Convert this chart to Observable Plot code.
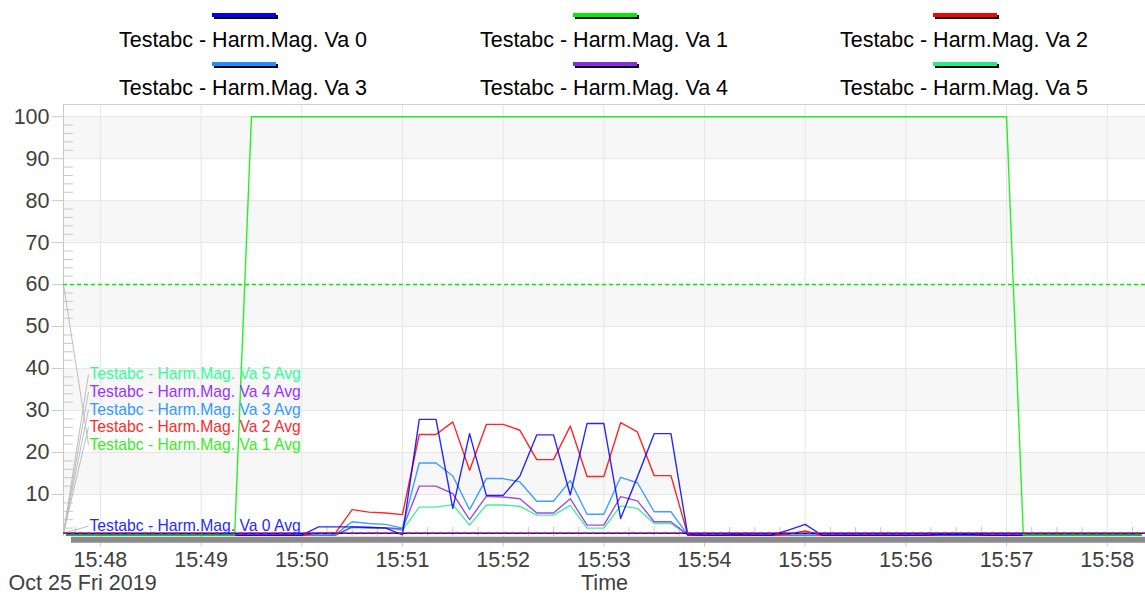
<!DOCTYPE html>
<html><head><meta charset="utf-8">
<script src="https://cdn.jsdelivr.net/npm/d3@7"></script>
<script src="https://cdn.jsdelivr.net/npm/@observablehq/plot@0.6"></script>
<style>
body{margin:0;background:#fff;font-family:"Liberation Sans",Arial,sans-serif;}
#legend{position:relative;width:1145px;height:104px;overflow:hidden;}
.sw{position:absolute;width:64px;height:4px;box-shadow:2px 2px 0 #000;}
.lt{position:absolute;width:360px;text-align:center;font-size:21.5px;line-height:24px;color:#000;white-space:nowrap;}
#chart svg{display:block;}
</style></head><body>
<div id="legend"></div><div id="chart"></div>
<script>
// ---------- data ----------
const startTime = "2019-10-25T15:47:40Z";
const stepSeconds = 10;
const seriesNames = ["Testabc - Harm.Mag. Va 0","Testabc - Harm.Mag. Va 1","Testabc - Harm.Mag. Va 2",
                     "Testabc - Harm.Mag. Va 3","Testabc - Harm.Mag. Va 4","Testabc - Harm.Mag. Va 5"];
const seriesColors = ["#0000ff","#00ee00","#ff0000","#1e90ff","#8a2be2","#22ee88"];
const avgLabelColors = ["#2a2aff","#33ee22","#ff2a2a","#3399ff","#9933ff","#33ff99"];

const va0 = [0.3,0.3,
 0.3,0.3,0.3,0.3,0.3,0.3,
 0.3,0.3,0.3,0.3,0.3,0.3,
 0.3,2.3,2.3,2.3,2.2,2.0,
 0.4,27.9,27.9,6.7,24.5,9.8,
 9.8,14.4,24.2,24.2,9.9,26.9,
 26.9,4.3,14.2,24.5,24.5,0.4,
 0.3,0.3,0.4,0.3,0.3,1.5,
 2.9,0.3,0.3,0.3,0.3,0.3,
 0.3,0.3,0.4,0.4,0.4,0.3,
 0.3,0.3,0.3,0.3,0.3,0.3,
 0.3,0.3,0.3];
const va1 = [0.3,0.3,
 0.3,0.3,0.3,0.3,0.3,0.3,
 0.3,0.3,0.3,100,100,100,
 100,100,100,100,100,100,
 100,100,100,100,100,100,
 100,100,100,100,100,100,
 100,100,100,100,100,100,
 100,100,100,100,100,100,
 100,100,100,100,100,100,
 100,100,100,100,100,100,
 100,0.3,0.3,0.3,0.3,0.3,
 0.3,0.3,0.3];
const va2 = [0.3,0.3,
 0.3,0.3,0.3,0.3,0.3,0.3,
 0.3,0.3,0.3,0.3,0.3,0.3,
 0.3,0.8,0.8,6.4,5.8,5.6,
 5.2,24.3,24.3,27.3,15.8,26.7,
 26.7,25.3,18.3,18.3,26.3,14.3,
 14.3,27.1,24.9,14.5,14.5,0.4,
 0.3,0.3,0.3,0.3,0.3,0.6,
 1.3,0.3,0.3,0.3,0.3,0.3,
 0.3,0.3,0.5,0.5,0.5,0.3,
 0.3,0.3,0.3,0.3,0.3,0.3,
 0.3,0.3,0.3];
const va3 = [0.3,0.3,
 0.3,0.3,0.3,0.3,0.3,0.3,
 0.3,0.3,0.3,0.3,0.3,0.3,
 0.3,0.3,0.5,3.5,3.1,2.9,
 2.0,17.5,17.5,14.4,6.4,13.8,
 13.8,13.0,8.4,8.4,13.3,5.3,
 5.3,14.1,12.8,5.9,5.9,0.4,
 0.3,0.3,0.3,0.3,0.3,0.3,
 0.3,0.3,0.3,0.3,0.3,0.3,
 0.3,0.3,0.3,0.3,0.3,0.3,
 0.3,0.3,0.3,0.3,0.3,0.3,
 0.3,0.3,0.3];
const va4 = [0.3,0.3,
 0.3,0.3,0.3,0.3,0.3,0.3,
 0.3,0.3,0.3,0.3,0.3,0.3,
 0.3,0.3,0.3,2.3,2.1,2.1,
 1.8,12.0,12.0,10.2,4.0,9.6,
 9.4,9.0,5.6,5.6,9.0,2.7,
 2.7,9.5,8.5,3.5,3.5,0.4,
 0.3,0.3,0.3,0.3,0.3,0.3,
 0.3,0.3,0.3,0.3,0.3,0.3,
 0.3,0.3,0.3,0.3,0.3,0.3,
 0.3,0.3,0.3,0.3,0.3,0.3,
 0.3,0.3,0.3];
const va5 = [0.3,0.3,
 0.3,0.3,0.3,0.3,0.3,0.3,
 0.3,0.3,0.3,0.3,0.3,0.3,
 0.3,0.3,0.3,2.1,2.0,2.0,
 1.5,7.0,7.0,7.6,2.7,7.5,
 7.5,7.2,5.1,5.1,7.4,2.0,
 2.0,7.3,6.7,3.1,3.1,0.4,
 0.3,0.3,0.3,0.3,0.3,0.3,
 0.3,0.3,0.3,0.3,0.3,0.3,
 0.3,0.3,0.3,0.3,0.3,0.3,
 0.3,0.3,0.3,0.3,0.3,0.3,
 0.3,0.3,0.3];
const seriesValues = [va0, va1, va2, va3, va4, va5];
const avgValues = [0.8, 60, 0.8, 0.8, 0.8, 0.8];
const yTickValues = [10,20,30,40,50,60,70,80,90,100];
const xDomainStart = "2019-10-25T15:47:38Z";
const xDomainEnd = "2019-10-25T15:58:22.8Z";
const dateLabel = "Oct 25 Fri 2019";
const axisTitle = "Time";

// ---------- legend ----------
const legend = document.getElementById("legend");
const colCenters = [243, 604, 964];
seriesNames.forEach((name, i) => {
  const col = i % 3, row = Math.floor(i / 3);
  const sw = document.createElement("div");
  sw.className = "sw";
  sw.style.background = seriesColors[i];
  sw.style.left = (colCenters[col] - 31) + "px";
  sw.style.top = (13 + row * 49) + "px";
  legend.appendChild(sw);
  const t = document.createElement("div");
  t.className = "lt";
  t.textContent = name;
  t.style.left = (colCenters[col] - 180) + "px";
  t.style.top = (28 + row * 48) + "px";
  legend.appendChild(t);
});

// ---------- chart ----------
const t0 = new Date(startTime);
const times = seriesValues[0].map((_, i) => new Date(+t0 + i * stepSeconds * 1000));
const xDomain = [new Date(xDomainStart), new Date(xDomainEnd)];
const yDomain = [0, 102.9];
const pxPerUnit = 4.2;
const msPerPx = 60000 / 100.68;
const xTicks = d3.utcMinute.range(new Date("2019-10-25T15:48:00Z"), new Date("2019-10-25T15:58:01Z"));
const xMinor = d3.utcSecond.every(15).range(xDomain[0], xDomain[1]).filter(d => d.getUTCSeconds() !== 0);
const yMinor = d3.range(2, 101, 2).filter(v => v % 10 !== 0);
const bands = yTickValues.filter(t => t % 20 === 10).map(t => ({lo: t, hi: t + 10}));
const fmt = d3.utcFormat("%H:%M");
const axisEdge = xDomain[0];
const minorTickEnd = new Date(+axisEdge + 10 * msPerPx);
const bandStart = new Date(+axisEdge + 8 * msPerPx);

// avg labels: stacked text with leader lines
const stackOrder = [5, 4, 3, 2, 1];
const stackTop = 38.6, stackStep = 17.6 / pxPerUnit;
const avgLabels = stackOrder.map((s, k) => ({s, ly: stackTop - k * stackStep}));
avgLabels.push({s: 0, ly: 2.45});
avgLabels.forEach(d => {
  d.text = seriesNames[d.s] + " Avg";
  d.color = avgLabelColors[d.s];
  d.avg = avgValues[d.s];
  d.x1 = axisEdge;
  d.x2 = new Date(+axisEdge + 25 * msPerPx);
});

const lineOrder = [5, 4, 3, 2, 0, 1];
const lineMarks = lineOrder.map(s => Plot.line(times.map((t, i) => ({t, v: seriesValues[s][i]})),
  {x: "t", y: "v", stroke: seriesColors[s], strokeWidth: 1.4, strokeOpacity: 0.85}));

const avgOrder = [5, 4, 3, 1, 2, 0];
const avgMarks = avgOrder.map(s => Plot.ruleY([avgValues[s]], {
  stroke: seriesColors[s], strokeWidth: 1.5,
  strokeDasharray: s === 1 ? "4,3" : "4,4",
  strokeDashoffset: s === 0 ? 4 : 0
}));

const chart = Plot.plot({
  width: 1145, height: 492,
  marginLeft: 63, marginRight: 0, marginTop: 0, marginBottom: 60,
  style: {fontFamily: '"Liberation Sans", Arial, sans-serif', fontSize: "21.5px", color: "#404040", background: "#fff", overflow: "visible"},
  x: {type: "utc", domain: xDomain, axis: null},
  y: {domain: yDomain, axis: null},
  marks: [
    Plot.rect(bands, {y1: "lo", y2: "hi", fill: "#f7f7f7"}),
    Plot.gridY(yTickValues, {stroke: "#e6e6e6", strokeOpacity: 1}),
    Plot.gridX(xTicks, {stroke: "#e6e6e6", strokeOpacity: 1}),
    Plot.ruleY([yDomain[1]], {stroke: "#d0d0d0"}),
    Plot.ruleX([axisEdge], {stroke: "#c8c8c8"}),
    Plot.axisY(yTickValues, {tickSize: 11, tickPadding: 3, stroke: "#c8c8c8", fill: "#404040", fontSize: 21.5, label: null}),
    Plot.ruleY(yMinor, {x1: axisEdge, x2: minorTickEnd, stroke: "#c8c8c8"}),
    Plot.axisX(xTicks, {tickSize: 10.5, tickPadding: 5, stroke: "#c8c8c8", fill: "#404040", fontSize: 21.5, tickFormat: fmt, label: null}),
    Plot.ruleX(xMinor, {y1: 0, y2: 9 / pxPerUnit, stroke: "#c8c8c8"}),
    Plot.link(avgLabels, {x1: "x1", y1: "avg", x2: "x2", y2: "ly", stroke: "#bdbdbd", strokeWidth: 1}),
    ...lineMarks,
    ...avgMarks,
    Plot.text(avgLabels, {x: "x1", y: "ly", text: "text", fill: "color", dx: 26, textAnchor: "start", fontSize: 15.7}),
    Plot.ruleY([-0.8], {x1: bandStart, x2: xDomain[1], stroke: "#8a8a8a", strokeWidth: 6}),
    Plot.text([axisTitle], {frameAnchor: "bottom", lineAnchor: "middle", dy: 47, fontSize: 21.5, fill: "#404040"}),
    Plot.text([dateLabel], {frameAnchor: "bottom-left", lineAnchor: "middle", dx: -55, dy: 47, textAnchor: "start", fontSize: 21.5, fill: "#404040"})
  ]
});
document.getElementById("chart").appendChild(chart);
</script>
</body></html>
